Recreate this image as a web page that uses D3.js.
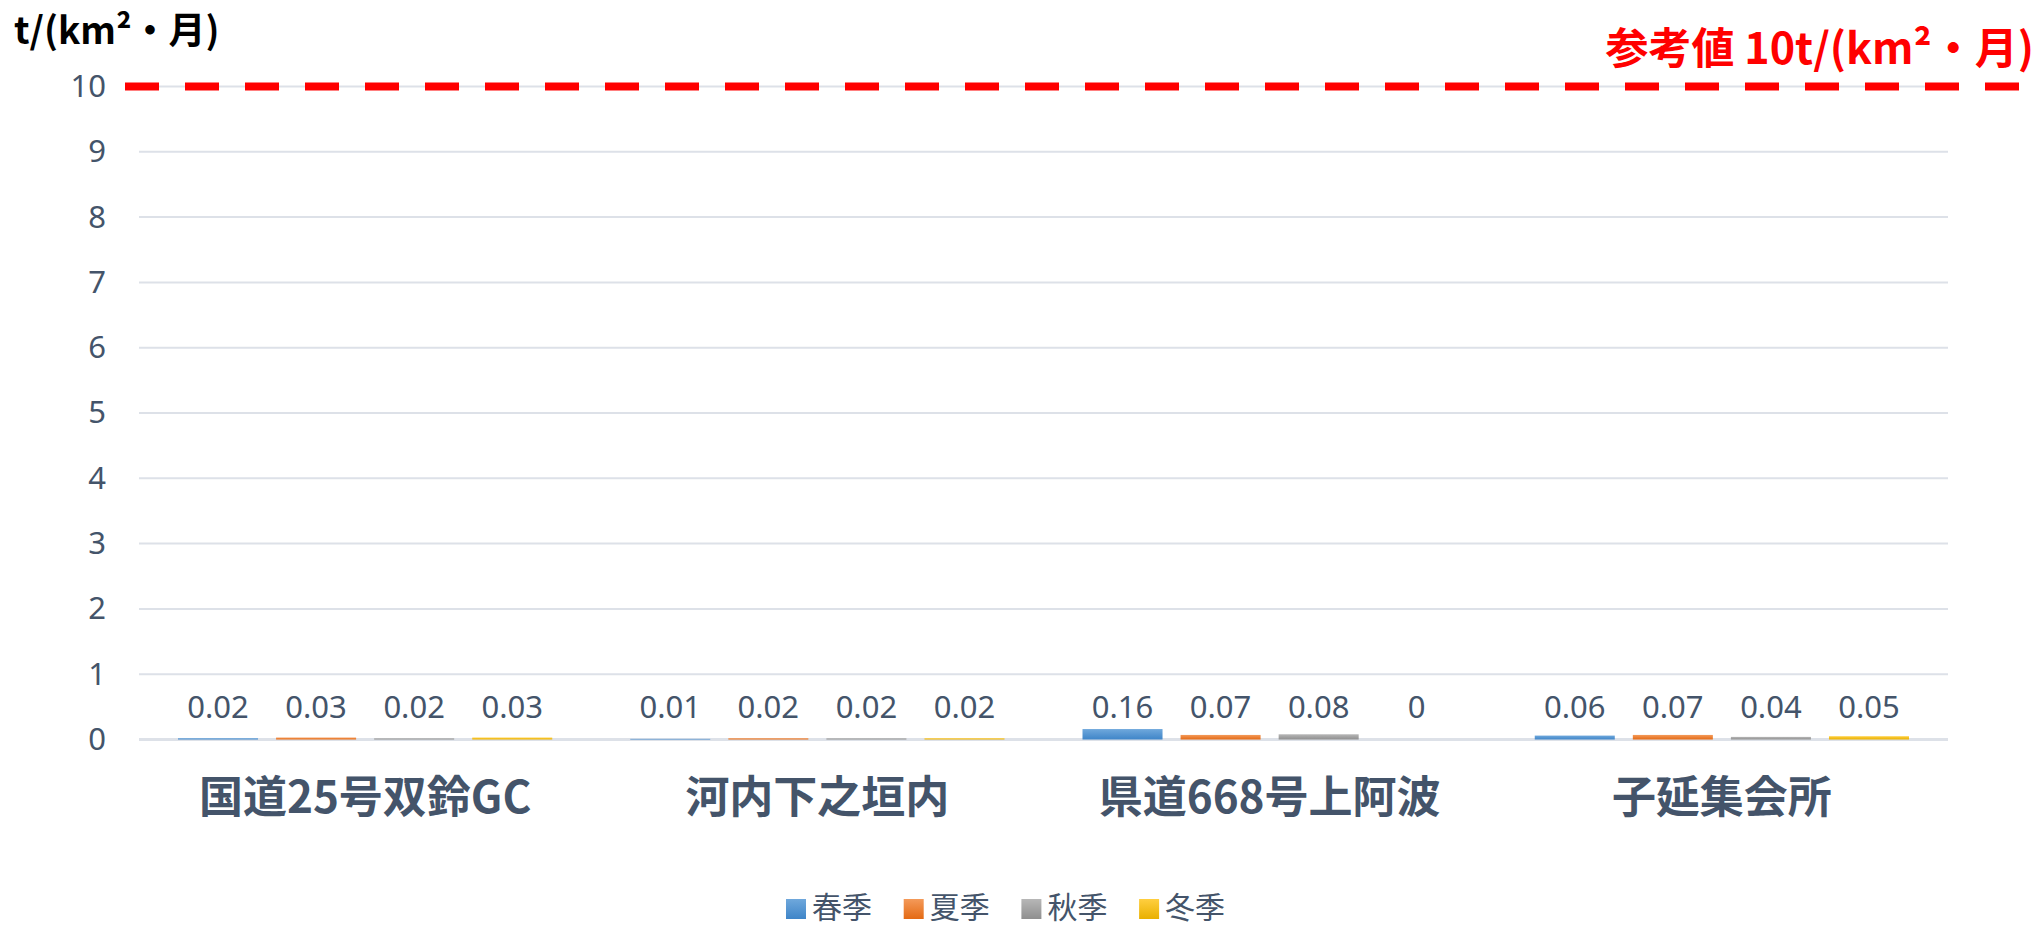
<!DOCTYPE html>
<html>
<head>
<meta charset="utf-8">
<script src="https://cdn.jsdelivr.net/npm/d3@7"></script>
<style>
  body { margin: 0; background: #fff; }
  text { font-family: "Noto Sans", "Noto Sans CJK JP", sans-serif; }
</style>
</head>
<body>
<div id="chart"></div>
<script>
// chart data
var categories = ["国道25号双鈴GC", "河内下之垣内", "県道668号上阿波", "子延集会所"];
var seasons = ["春季", "夏季", "秋季", "冬季"];
var spring = [0.02, 0.01, 0.16, 0.06];
var summer = [0.03, 0.02, 0.07, 0.07];
var autumn = [0.02, 0.02, 0.08, 0.04];
var winter = [0.03, 0.02, 0, 0.05];
var yTicks = [0, 1, 2, 3, 4, 5, 6, 7, 8, 9, 10];
var refValue = 10;
var refLabel = "参考値 10t/(km²・月)";
var axisTitle = "t/(km²・月)";

var colorsLight = ["#6fa8dc", "#f49a5a", "#b7b7b7", "#ffcf40"];
var colorsDark = ["#3f85c8", "#e46a14", "#8f8f8f", "#e9b000"];
var series = [spring, summer, autumn, winter];

var width = 2040, height = 928;
var margin = {top: 86.5, left: 139, right: 92, bottom: 188.5};
var textColor = "#44546a";
var cjk = "'Noto Sans CJK JP', sans-serif";

var svg = d3.select("#chart")
  .append("svg")
    .attr("width", width)
    .attr("height", height);

// gradients for bars and legend
var defs = svg.append("defs");
seasons.forEach(function (s, i) {
  var g = defs.append("linearGradient")
      .attr("id", "grad" + i)
      .attr("x1", 0).attr("y1", 0).attr("x2", 0).attr("y2", 1);
  g.append("stop").attr("offset", "0%").attr("stop-color", colorsLight[i]);
  g.append("stop").attr("offset", "100%").attr("stop-color", colorsDark[i]);
});

var x0 = d3.scaleBand()
    .domain(categories)
    .range([margin.left, width - margin.right])
    .padding(0);

var x1 = d3.scaleBand()
    .domain(seasons)
    .range([39, x0.bandwidth() - 39])
    .paddingInner(0.184)
    .paddingOuter(0);

var y = d3.scaleLinear()
    .domain([0, 10])
    .range([height - margin.bottom, margin.top]);

// gridlines
svg.append("g")
  .selectAll("line")
  .data(yTicks)
  .enter().append("line")
    .attr("x1", margin.left)
    .attr("x2", width - margin.right)
    .attr("y1", function (d) { return y(d); })
    .attr("y2", function (d) { return y(d); })
    .attr("stroke", "#dde1e8")
    .attr("stroke-width", function (d) { return d === 0 ? 3 : 2; });

// y axis labels
var yAxis = svg.append("g")
    .attr("transform", "translate(" + (margin.left - 33) + ",0)")
    .call(d3.axisLeft(y).tickValues(yTicks).tickSize(0).tickPadding(0));
yAxis.select(".domain").remove();
yAxis.selectAll("text")
    .style("font-family", "'Noto Sans', sans-serif")
    .style("font-size", "31px")
    .attr("fill", textColor);

// bars
var groups = svg.append("g")
  .selectAll("g")
  .data(categories)
  .enter().append("g")
    .attr("transform", function (d) { return "translate(" + x0(d) + ",0)"; });

groups.selectAll("rect")
  .data(function (d, ci) {
    return seasons.map(function (s, si) { return {season: s, i: si, value: series[si][ci]}; });
  })
  .enter().append("rect")
    .attr("x", function (d) { return x1(d.season); })
    .attr("y", function (d) { return y(d.value); })
    .attr("width", x1.bandwidth())
    .attr("height", function (d) { return y(0) - y(d.value); })
    .attr("fill", function (d) { return "url(#grad" + d.i + ")"; });

// data labels
groups.selectAll(".bartext")
  .data(function (d, ci) {
    return seasons.map(function (s, si) { return {season: s, value: series[si][ci]}; });
  })
  .enter().append("text")
    .attr("class", "bartext")
    .attr("text-anchor", "middle")
    .attr("x", function (d) { return x1(d.season) + x1.bandwidth() / 2; })
    .attr("y", y(0) - 22)
    .attr("fill", textColor)
    .style("font-size", "31px")
    .text(function (d) { return d.value; });

// category labels
var xAxis = svg.append("g")
    .attr("transform", "translate(0," + y(0) + ")")
    .call(d3.axisBottom(x0).tickSize(0).tickPadding(0));
xAxis.select(".domain").remove();
xAxis.selectAll("text")
    .attr("y", 58)
    .attr("dy", "0.35em")
    .style("font-family", cjk)
    .style("font-size", "44px")
    .style("font-weight", "bold")
    .attr("fill", textColor);

// reference line
svg.append("line")
    .attr("x1", 125)
    .attr("x2", width)
    .attr("y1", y(refValue))
    .attr("y2", y(refValue))
    .attr("stroke", "#ff0000")
    .attr("stroke-width", 8)
    .attr("stroke-dasharray", "34,26");

svg.append("text")
    .attr("x", 2034)
    .attr("y", 64)
    .attr("text-anchor", "end")
    .attr("fill", "#ff0000")
    .style("font-family", cjk)
    .style("font-size", "43px")
    .style("font-weight", "bold")
    .text(refLabel);

// axis title
svg.append("text")
    .attr("x", 14)
    .attr("y", 44)
    .attr("fill", "#000")
    .style("font-family", cjk)
    .style("font-size", "37px")
    .style("font-weight", "bold")
    .text(axisTitle);

// legend
var legend = svg.append("g")
  .selectAll("g")
  .data(seasons)
  .enter().append("g")
    .attr("transform", function (d, i) { return "translate(" + (786 + i * 117.7) + ",899)"; });

legend.append("rect")
    .attr("width", 20)
    .attr("height", 20)
    .attr("fill", function (d, i) { return "url(#grad" + i + ")"; });

legend.append("text")
    .attr("x", 26)
    .attr("y", 19)
    .attr("fill", textColor)
    .style("font-family", cjk)
    .style("font-size", "30px")
    .text(function (d) { return d; });
</script>
</body>
</html>
